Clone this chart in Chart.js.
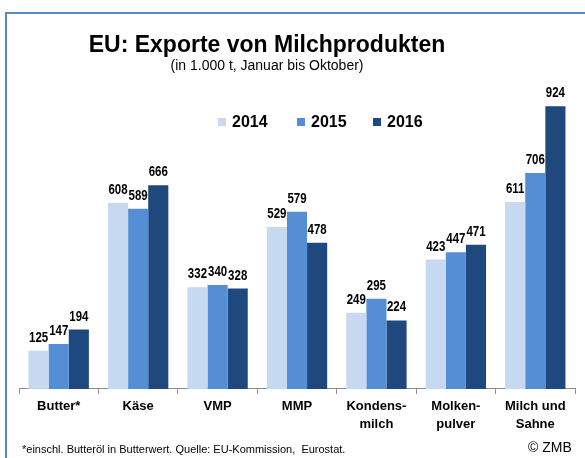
<!DOCTYPE html>
<html>
<head>
<meta charset="utf-8">
<script src="https://cdn.jsdelivr.net/npm/chart.js@4.4.1/dist/chart.umd.min.js"></script>
<style>
  html, body { margin: 0; padding: 0; background: #fff; overflow: hidden; }
  #wrap { position: relative; width: 585px; height: 458px; }
  #frame {
    position: absolute; left: 5px; top: 12px; width: 700px; height: 600px;
    border-top: 2px solid #5a8ac6; border-left: 2px solid #5a8ac6;
  }
  canvas { position: absolute; left: 0; top: 0; }
</style>
</head>
<body>
<div id="wrap">
  <div id="frame"></div>
  <canvas id="myChart" width="585" height="458"></canvas>
</div>
<script>
const categories = ["Butter*", "Käse", "VMP", "MMP", ["Kondens-", "milch"], ["Molken-", "pulver"], ["Milch und", "Sahne"]];
const years = ["2014", "2015", "2016"];
const values2014 = [125, 608, 332, 529, 249, 423, 611];
const values2015 = [147, 589, 340, 579, 295, 447, 706];
const values2016 = [194, 666, 328, 478, 224, 471, 924];
const colors = ["#c6d9f1", "#558ed5", "#1f497d"];

const titleText = "EU: Exporte von Milchprodukten";
const subtitleText = "(in 1.000 t, Januar bis Oktober)";
const footnoteText = "*einschl. Butteröl in Butterwert. Quelle: EU-Kommission,  Eurostat.";
const sourceText = "© ZMB";

// value labels above the bars (squeezed a bit, the original uses a narrow face)
const valueLabels = {
  id: "valueLabels",
  afterDatasetsDraw(chart) {
    const ctx = chart.ctx;
    ctx.save();
    ctx.font = "bold 14px 'Liberation Sans', Arial, sans-serif";
    ctx.fillStyle = "#000";
    ctx.textAlign = "center";
    ctx.textBaseline = "alphabetic";
    chart.data.datasets.forEach((ds, i) => {
      chart.getDatasetMeta(i).data.forEach((bar, j) => {
        ctx.save();
        ctx.translate(bar.x, bar.y - 9);
        ctx.scale(0.82, 1);
        ctx.fillText(ds.data[j], 0, 0);
        ctx.restore();
      });
    });
    ctx.restore();
  },
};

// title, subtitle, legend, footnote
const decor = {
  id: "decor",
  afterDraw(chart) {
    const ctx = chart.ctx;
    ctx.save();
    ctx.fillStyle = "#000";
    ctx.textBaseline = "alphabetic";
    ctx.textAlign = "center";
    ctx.font = "bold 23px 'Liberation Sans', Arial, sans-serif";
    ctx.fillText(titleText, 267, 52);
    ctx.font = "14px 'Liberation Sans', Arial, sans-serif";
    ctx.fillText(subtitleText, 267, 70);

    ctx.textAlign = "left";
    const boxX = [218, 297, 373];
    chart.data.datasets.forEach((ds, i) => {
      ctx.fillStyle = ds.backgroundColor;
      ctx.fillRect(boxX[i], 118, 8, 8);
      ctx.fillStyle = "#000";
      ctx.font = "bold 16px 'Liberation Sans', Arial, sans-serif";
      ctx.fillText(ds.label, boxX[i] + 14, 127);
    });

    ctx.font = "11px 'Liberation Sans', Arial, sans-serif";
    ctx.fillText(footnoteText, 22, 453);
    ctx.font = "14px 'Liberation Sans', Arial, sans-serif";
    ctx.fillText(sourceText, 528, 452);
    ctx.restore();
  },
};

const config = {
  type: "bar",
  data: {
    labels: categories,
    datasets: years.map((y, i) => ({
      label: y,
      data: [values2014, values2015, values2016][i],
      backgroundColor: colors[i],
      borderWidth: 0,
      categoryPercentage: 0.76,
      barPercentage: 1,
    })),
  },
  options: {
    responsive: false,
    animation: false,
    layout: { padding: { top: 83, left: 19, right: 10, bottom: 21 } },
    plugins: {
      legend: { display: false },
      title: { display: false },
      tooltip: { enabled: false },
    },
    scales: {
      y: { display: false, min: 0, max: 1000 },
      x: {
        grid: { offset: true, drawOnChartArea: false, tickLength: 5, color: "#8c8c8c" },
        border: { color: "#8c8c8c" },
        ticks: {
          color: "#000",
          padding: 4,
          font: { family: "'Liberation Sans', Arial, sans-serif", size: 13, weight: "bold", lineHeight: 1.35 },
        },
      },
    },
  },
  plugins: [valueLabels, decor],
};

const myChart = new Chart(document.getElementById("myChart"), config);
</script>
</body>
</html>
